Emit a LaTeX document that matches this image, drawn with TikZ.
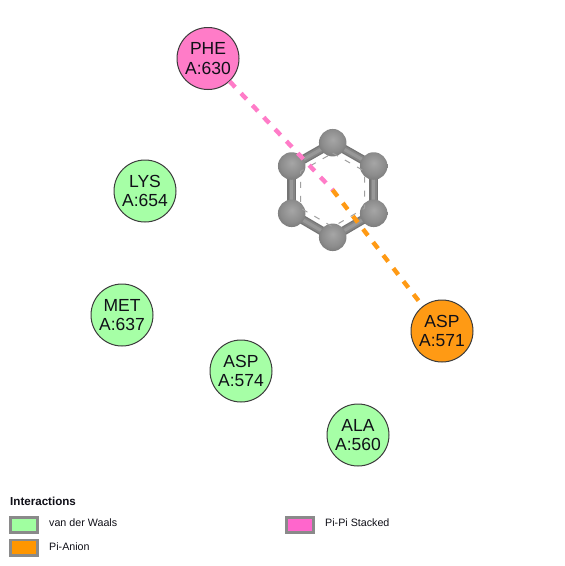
\documentclass[tikz,border=0pt]{standalone}
\usepackage{fontspec}
\setmainfont{Liberation Sans}
\usetikzlibrary{calc}
\newcommand{\Unit}{1pt}
\definecolor{vdw}{HTML}{A6FFA6}
\definecolor{anion}{HTML}{FF9A14}
\definecolor{stacked}{HTML}{FF7CC8}
\definecolor{rim}{HTML}{3C3C3C}
\definecolor{keybox}{HTML}{8A8A8A}
\definecolor{keyvdwfill}{HTML}{A0FFA0}
\definecolor{keyanionfill}{HTML}{FF9600}
\definecolor{keystackedfill}{HTML}{FF66CC}
\definecolor{ink}{HTML}{101018}
\definecolor{bond}{HTML}{747474}
\definecolor{bondmid}{HTML}{868686}
\definecolor{bondlight}{HTML}{989898}
\definecolor{ringdash}{HTML}{A0A0A0}
\definecolor{atomlight}{HTML}{A6A6A6}
\definecolor{atommid}{HTML}{8C8C8C}
\definecolor{atomedge}{HTML}{686868}
\definecolor{atomdark}{HTML}{484848}
\pgfdeclareradialshading{atomball}{\pgfpoint{0bp}{6bp}}{%
  color(0bp)=(atomlight); color(20bp)=(atommid); color(38bp)=(atomedge); color(52bp)=(atomdark)}
\tikzset{
  residue/.style={circle,draw=rim,line width=1pt,minimum size=62pt,inner sep=0pt,align=center,
    text=ink,font=\fontsize{17.5}{19.5}\selectfont},
  atom/.style={circle,minimum size=27.5pt,inner sep=0pt,shading=atomball},
  keyswatch/.style={draw=keybox,line join=miter,line width=2.6pt,minimum width=27.4pt,minimum height=15.4pt,inner sep=0pt},
  keylabel/.style={anchor=west,inner sep=0pt,text=ink,font=\fontsize{10.7}{12}\selectfont},
  contact/.style={line width=4.4pt,dash pattern=on 8pt off 8.5pt}
}

\begin{document}
\begin{tikzpicture}[x=\Unit,y=-\Unit, line join=round]
  \useasboundingbox (0,0) rectangle (565,566);
  \fill[white] (0,0) rectangle (565,566);

  % ---- residues -----------------------------------------------------------
  \node[residue,fill=stacked] (phe630) at (208,58.5) {PHE\\A:630};
  \node[residue,fill=vdw] (lys654) at (145,191) {LYS\\A:654};
  \node[residue,fill=vdw] (met637) at (122,315) {MET\\A:637};
  \node[residue,fill=vdw] (asp574) at (241,371) {ASP\\A:574};
  \node[residue,fill=vdw] (ala560) at (358,435) {ALA\\A:560};
  \node[residue,fill=anion] (asp571) at (442,331) {ASP\\A:571};

  % ---- the ring, bonds behind the atoms -----------------------------------
  \coordinate (ringc) at (332.7,190);
  \foreach \name/\x/\y in {c1/332.7/142.7,c2/373.7/166,c3/373.7/213.3,c4/332.7/237.3,c5/291.7/213.3,c6/291.7/166} {
    \coordinate (\name) at (\x,\y);
  }
  \foreach \a/\b in {c1/c2,c2/c3,c3/c4,c4/c5,c5/c6,c6/c1} {
    \draw[bond,line width=9pt] (\a) -- (\b);
    \draw[bondmid,line width=6.4pt] (\a) -- (\b);
    \draw[bondlight,line width=3.2pt] (\a) -- (\b);
  }
  \foreach \name in {c1,c2,c3,c4,c5,c6} {
    \node[atom] (atom\name) at (\name) {};
  }
  % Aromatic ring, dashed, just inside the bonds.
  \draw[ringdash,line width=1pt,dash pattern=on 6pt off 8pt]
    ($(ringc)!0.78!(c1)$) -- ($(ringc)!0.78!(c2)$) -- ($(ringc)!0.78!(c3)$)
    -- ($(ringc)!0.78!(c4)$) -- ($(ringc)!0.78!(c5)$) -- ($(ringc)!0.78!(c6)$) -- cycle;

  % ---- contacts -----------------------------------------------------------
  \draw[contact,stacked] (phe630) -- (ringc);
  \draw[contact,anion] (ringc) -- (asp571);

  % ---- legend -------------------------------------------------------------
  \node[anchor=west,inner sep=0pt,text=ink,font=\fontsize{11.6}{13}\bfseries\selectfont] (keytitle) at (10,501) {Interactions};
  \node[keyswatch,fill=keyvdwfill] (keyvdw) at (24,525) {};
  \node[keyswatch,fill=keyanionfill] (keyanion) at (24,547.7) {};
  \node[keyswatch,fill=keystackedfill] (keystacked) at (300,525) {};
  \node[keylabel] (labelvdw) at (49,523) {van der Waals};
  \node[keylabel] (labelanion) at (49,546.5) {Pi-Anion};
  \node[keylabel] (labelstacked) at (325,523) {Pi-Pi Stacked};

\end{tikzpicture}
\end{document}
